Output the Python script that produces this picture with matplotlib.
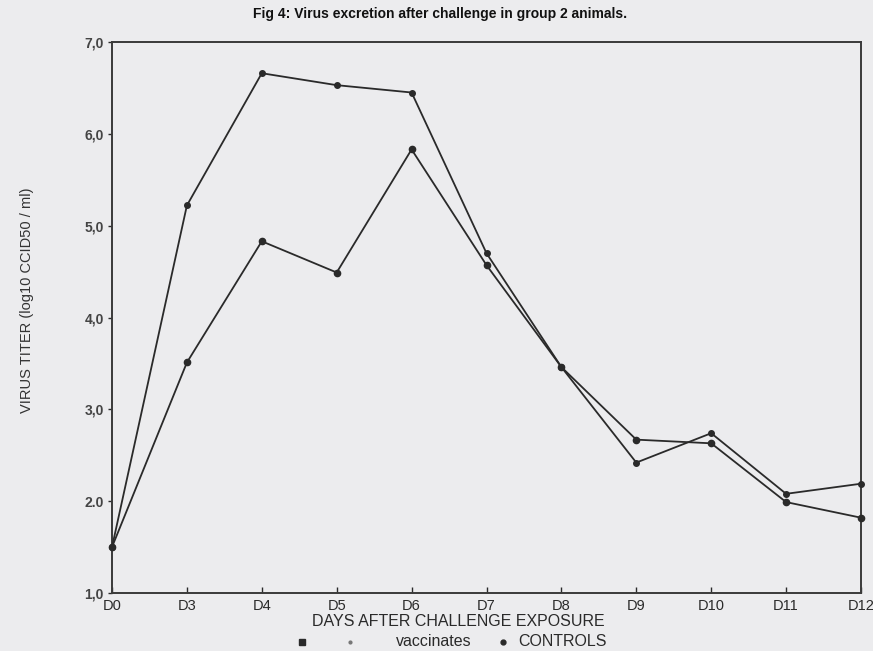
import matplotlib
matplotlib.use("Agg")
import matplotlib.pyplot as plt
from matplotlib.lines import Line2D

# Sampling days after challenge
days = ["D0", "D3", "D4", "D5", "D6", "D7", "D8", "D9", "D10", "D11", "D12"]

# Virus titers (log10 CCID50 / ml)
controls = [1.50, 5.22, 6.66, 6.53, 6.45, 4.70, 3.46, 2.42, 2.74, 2.08, 2.19]
vaccinates = [1.50, 3.51, 4.83, 4.49, 5.83, 4.57, 3.46, 2.67, 2.63, 1.99, 1.82]

ytick_values = [1, 2, 3, 4, 5, 6, 7]
ytick_labels = ["1,0", "2.0", "3,0", "4,0", "5,0", "6,0", "7,0"]

paper = "#ececee"
ink = "#2a2a2a"
plt.rcParams["font.family"] = ["Liberation Sans", "DejaVu Sans"]

W, H = 873, 651
fig = plt.figure(figsize=(W / 100, H / 100), dpi=100, facecolor=paper)
ax = fig.add_axes([112 / W, 58 / H, 749 / W, 551 / H], facecolor=paper)

x = list(range(len(days)))
ax.plot(x, controls, color=ink, lw=1.3, marker="o", ms=4, mfc=ink, mec=ink,
        clip_on=False, zorder=3)
ax.plot(x, vaccinates, color=ink, lw=1.3, marker="o", ms=4.5, mfc=ink, mec=ink,
        clip_on=False, zorder=3)

ax.set_xlim(0, len(days) - 1)
ax.set_ylim(1, 7)
ax.set_xticks(x)
ax.set_xticklabels(days, fontsize=10.5, color=ink)
ax.set_yticks(ytick_values)
ax.set_yticklabels(ytick_labels, fontsize=10, fontweight="bold", color="#444444")
ax.tick_params(axis="x", direction="in", length=4, width=1, color=ink, pad=4)
ax.tick_params(axis="y", direction="out", length=3, width=1, color=ink, pad=3)
for s in ax.spines.values():
    s.set_color("#3a3a3a")
    s.set_linewidth(1.4)

fig.text(27 / W, 1 - 300 / H, "VIRUS TITER (log10 CCID50 / ml)", fontsize=10.5,
         color="#333333", rotation=90, ha="center", va="center")
fig.text(458 / W, 1 - 622 / H, "DAYS AFTER CHALLENGE EXPOSURE", fontsize=11.5,
         color=ink, ha="center", va="center")
fig.text(440 / W, 1 - 14 / H,
         "Fig 4: Virus excretion after challenge in group 2 animals.",
         fontsize=10, fontweight="bold", color="#111111", ha="center", va="center")

# Legend row along the bottom edge
legend_y = 1 - 642 / H
for px, mk, size, col in [(302, "s", 4.0, ink), (350, "o", 2.0, "#777777"),
                          (503, "o", 3.5, ink)]:
    fig.add_artist(Line2D([px / W], [legend_y], ls="none", marker=mk, ms=size,
                          color=col, transform=fig.transFigure))
fig.text(434 / W, legend_y, "vaccinates", fontsize=11.5, color=ink,
         ha="center", va="center")
fig.text(518 / W, legend_y, "CONTROLS", fontsize=11.5, color=ink,
         ha="left", va="center")

fig.savefig("out.png", dpi=100, facecolor=paper)
